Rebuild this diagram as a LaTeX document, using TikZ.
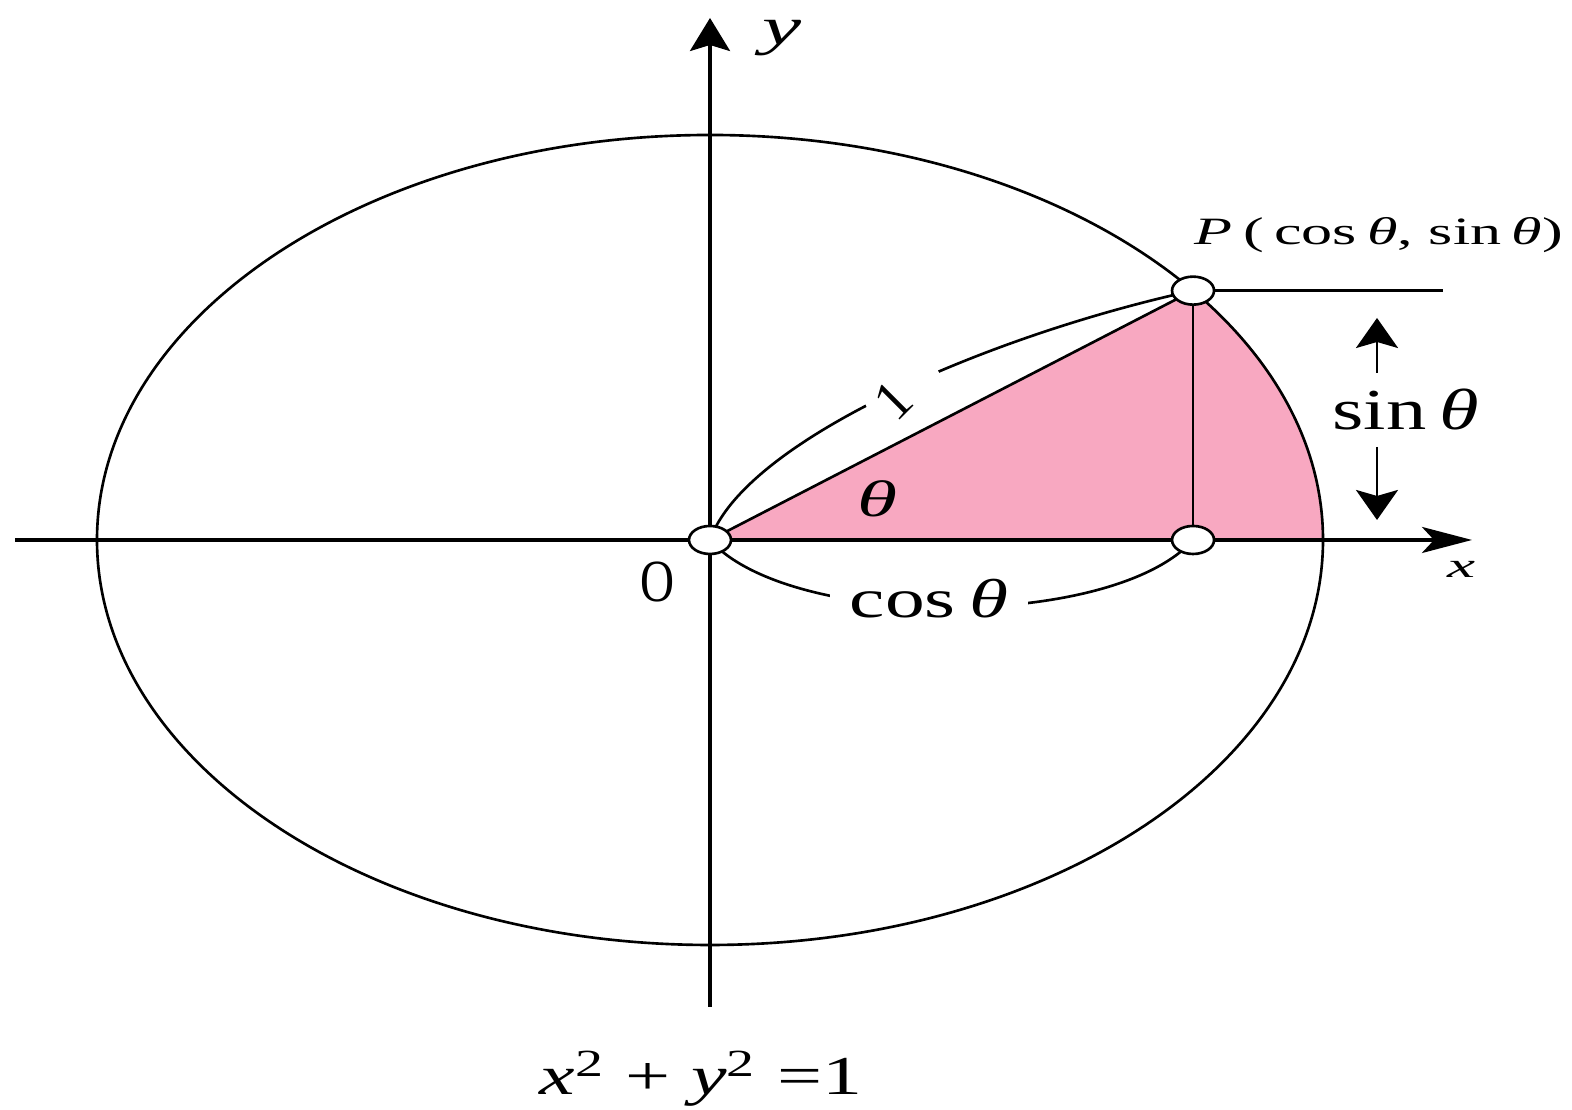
\documentclass[tikz,border=0pt]{standalone}
\usepackage{fontspec}
\setmainfont{Liberation Serif}
\usetikzlibrary{arrows.meta,shapes.geometric}
\definecolor{pinkfill}{RGB}{248,168,193}
\newcommand\fitw[2]{\resizebox{#1cm}{\height}{#2}}
\begin{document}
\begin{tikzpicture}[x=0.01cm,y=0.01cm,
  thinline/.style={line width=0.75pt},
  axisline/.style={line width=1pt},
  dot/.style={ellipse, draw, line width=0.75pt, fill=white, minimum width=0.42cm, minimum height=0.28cm, inner sep=0pt},
  lab/.style={inner sep=0pt, anchor=base},
  gapbox/.style={fill=white, inner sep=0pt, draw=none}]
\useasboundingbox (0,0) rectangle (1572,1110);
\coordinate (co) at (710,570);
\coordinate (cp) at ({710+613*cos(38)},{570+405*sin(38)});
\coordinate (cf) at ({710+613*cos(38)},570);
\coordinate (xs) at (15,570);
\coordinate (xe) at (1472,570);
\coordinate (ys) at (710,103);
\coordinate (ye) at (710,1092);
\coordinate (hl) at (1443,{570+405*sin(38)});
\coordinate (au1) at (1377,737);
\coordinate (au2) at (1377,792);
\coordinate (ad1) at (1377,663);
\coordinate (ad2) at (1377,590);
% pink sector
\fill[pinkfill] (co) -- (cp) arc[start angle=38, end angle=0, x radius=613, y radius=405] -- cycle;
% circle (stretched)
\draw[thinline] (co) ellipse[x radius=613, y radius=405];
% axes
\draw[axisline, -{Stealth[length=0.5cm,width=0.26cm,inset=0.12cm]}] (xs) -- (xe);
\draw[axisline, -{Stealth[length=0.33cm,width=0.4cm,inset=0.06cm]}] (ys) -- (ye);
% dimension curves
\draw[thinline] (co) .. controls (745,670) and (990,775) .. (cp);
\node[gapbox, rotate=26, minimum width=0.8cm, minimum height=0.16cm] (gap1) at (901,724) {};
\draw[thinline] (co) .. controls (790,480) and (1113,480) .. (cf);
% triangle lines
\draw[thinline] (co) -- (cp);
\draw[thinline] (cp) -- (cf);
\draw[thinline] (cp) -- (hl);
% sin arrows
\draw[thinline, -{Stealth[length=0.3cm,width=0.42cm,inset=0.06cm]}] (au1) -- (au2);
\draw[thinline, -{Stealth[length=0.3cm,width=0.42cm,inset=0.06cm]}] (ad1) -- (ad2);
% points
\node[dot] (O) at (co) {};
\node[dot] (P) at (cp) {};
\node[dot] (F) at (cf) {};
% labels
\node[lab] (ylab) at (782,1065) {\fontsize{15}{18}\selectfont\fitw{0.39}{\itshape y}};
\node[lab] (xlab) at (1461,532) {\fontsize{10}{12}\selectfont\fitw{0.28}{\itshape x}};
\node[lab] (Olab) at (658,508) {\fontsize{17}{20}\selectfont\fitw{0.34}{O}};
\node[lab, fill=white, inner xsep=0.2cm, inner ysep=0.05cm] (coslab) at (929,492) {\fontsize{15.6}{18}\selectfont\fitw{1.58}{cos\,{\itshape θ}}};
\node[lab] (thlab) at (878,593) {\fontsize{14.6}{18}\selectfont\fitw{0.40}{\itshape θ}};
\node[inner sep=0pt, rotate=45] (onelab) at (893,710) {\fontsize{16}{18}\selectfont 1};
\node[lab] (sinlab) at (1406,680) {\fontsize{16.5}{20}\selectfont\fitw{1.47}{sin\,{\itshape θ}}};
\node[lab] (Plab) at (1379,865) {\fontsize{11}{13}\selectfont\fitw{3.68}{{\itshape P}\,(\,cos\,{\itshape θ}, sin\,{\itshape θ})}};
\node[lab] (eq) at (701,15) {\fontsize{15.6}{18}\selectfont\fitw{3.22}{{\itshape x}\textsuperscript{2} + {\itshape y}\textsuperscript{2} =1}};
\end{tikzpicture}
\end{document}
